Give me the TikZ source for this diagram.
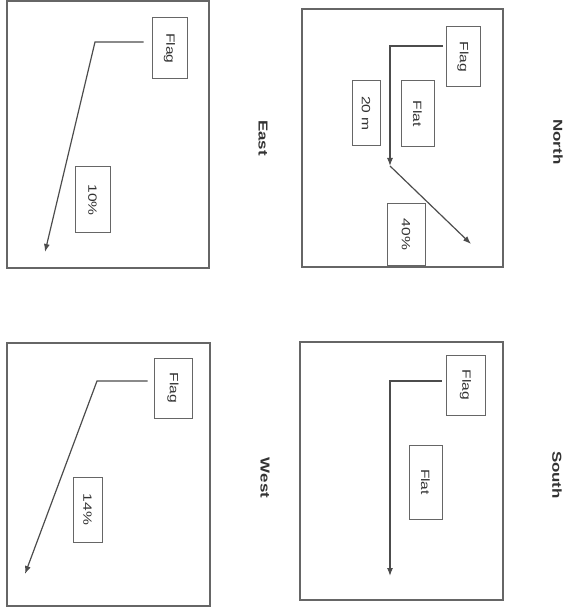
\documentclass[tikz,border=0pt]{standalone}
\usepackage{fontspec}
\setmainfont{Liberation Sans}
\usetikzlibrary{arrows.meta}
\newcommand\wide[1]{\scalebox{1.3}[1]{#1}}

\begin{document}
\begin{tikzpicture}[x=1pt,y=-1pt,
    frame/.style={draw=black!60,line width=1.1pt},
    box/.style={draw=black!60,line width=1pt,rotate=-90,inner sep=0pt,text=black!80,font=\fontsize{12}{14}\selectfont},
    side/.style={rotate=-90,text=black!80,font=\fontsize{13}{15}\selectfont\bfseries},
    route/.style={draw=black!70,line width=1.2pt,-{Latex[length=8pt,width=6pt]}}]
    \useasboundingbox (0,0) rectangle (572,609);
    % frames
    \draw[frame] (7,1) rectangle (209,268);
    \draw[frame] (302,9) rectangle (503,267);
    \draw[frame] (7,343) rectangle (210,606);
    \draw[frame] (300,342) rectangle (503,600);
    \foreach \x/\y/\t in {263/138/East,558/142/North,265/478/West,557/475/South}{
        \node[side] (lab\t) at (\x,\y) {\wide{\t}};
    }
    % east
    \node[box,minimum width=61pt,minimum height=35pt] (flagE) at (169.5,48.5) {\wide{Flag}};
    \node[box,minimum width=66pt,minimum height=35pt] (pctE) at (92.5,200) {\wide{10\%}};
    \coordinate (bendE) at (95,42);
    \coordinate (endE) at (45,252);
    \draw[route] (flagE.south) ++(-8,-6.5) -- (bendE) -- (endE);
    % north
    \node[box,minimum width=60pt,minimum height=34pt] (flagN) at (463,57) {\wide{Flag}};
    \node[box,minimum width=66pt,minimum height=33pt] (flatN) at (417.5,114) {\wide{Flat}};
    \node[box,minimum width=65pt,minimum height=28pt] (distN) at (366,113.5) {\wide{20 m}};
    \node[box,minimum width=61pt,minimum height=38pt] (pctN) at (406,234.5) {\wide{40\%}};
    \coordinate (bendN) at (390,46);
    \coordinate (midN) at (390,166);
    \coordinate (endN) at (471,244);
    \draw[route] (flagN.south) ++(-3,-11) -- (bendN) -- (midN);
    \draw[route] (midN) -- (endN);
    % west
    \node[box,minimum width=60pt,minimum height=38pt] (flagW) at (173,388) {\wide{Flag}};
    \node[box,minimum width=65pt,minimum height=29pt] (pctW) at (87.5,509.5) {\wide{14\%}};
    \coordinate (bendW) at (97,381);
    \coordinate (endW) at (25,574);
    \draw[route] (flagW.south) ++(-6,-7) -- (bendW) -- (endW);
    % south
    \node[box,minimum width=60pt,minimum height=39pt] (flagS) at (465.5,385) {\wide{Flag}};
    \node[box,minimum width=74pt,minimum height=33pt] (flatS) at (425.5,482) {\wide{Flat}};
    \coordinate (bendS) at (390,381);
    \coordinate (endS) at (390,576);
    \draw[route] (flagS.south) ++(-4,-4) -- (bendS) -- (endS);
\end{tikzpicture}
\end{document}
